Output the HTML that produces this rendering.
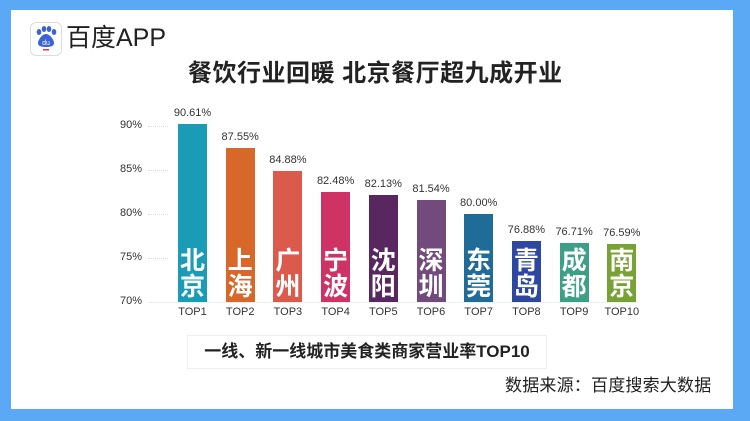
<!DOCTYPE html>
<html><head><meta charset="utf-8"><style>
body{margin:0;width:750px;height:421px;background:#5ba8f4;position:relative;overflow:hidden;font-family:"Liberation Sans","Noto Sans CJK SC",sans-serif}
#w{position:absolute;left:11px;top:10px;width:722px;height:399px;background:#fff}
.a{position:absolute}
.lbl{position:absolute;font-size:11px;color:#333;text-align:center;width:60px}
.tk{position:absolute;font-size:11px;color:#333;left:112px;width:30px;text-align:right}
.grid{position:absolute;left:148px;width:20px;border-top:1px dotted #ddd}
.bar{position:absolute;width:29px}
.cn{position:absolute;width:29px;color:#fff;font-size:25px;line-height:26px;text-align:center;font-family:"Noto Sans CJK SC",sans-serif;font-weight:bold}
</style></head><body><div id="w"></div>
<div class="a" style="left:30px;top:22px;width:30px;height:32px;border:1px solid #ddd;border-radius:6px;background:#fff"></div>
<svg class="a" style="left:33px;top:25px" width="26" height="26" viewBox="0 0 26 26"><g fill="#3a63d8"><ellipse cx="6" cy="7" rx="2.3" ry="3"/><ellipse cx="11" cy="4" rx="2.3" ry="3"/><ellipse cx="16" cy="4" rx="2.3" ry="3"/><ellipse cx="21" cy="7" rx="2.3" ry="3"/><path d="M13 9c-4 0-8 6-8 9s3 4 8 4 8-1 8-4-4-9-8-9z"/></g><text x="13" y="20" font-size="7" fill="#fff" text-anchor="middle" font-family="Liberation Sans">du</text><rect x="10" y="24" width="6" height="1.5" fill="#e33"/></svg>
<div class="a" style="left:66px;top:23px;font-size:25px;color:#222;line-height:30px">百度APP</div>
<div class="a" style="left:188px;top:60px;font-size:24px;font-weight:bold;color:#222;line-height:28px;letter-spacing:0.5px;white-space:nowrap">餐饮行业回暖 北京餐厅超九成开业</div>
<div class="tk" style="top:119px">90%</div><div class="tk" style="top:163px">85%</div><div class="tk" style="top:207px">80%</div><div class="tk" style="top:251px">75%</div><div class="tk" style="top:295px">70%</div>
<div class="grid" style="top:126px"></div><div class="grid" style="top:170px"></div><div class="grid" style="top:214px"></div><div class="grid" style="top:258px"></div>
<div class="a" style="left:148px;top:302px;width:490px;border-top:1px solid #eee"></div>
<div id="bars"></div>
<script>
var d=[[90.61,"#1a9bb6","北京"],[87.55,"#d8682a","上海"],[84.88,"#db5a4c","广州"],[82.48,"#cf3366","宁波"],[82.13,"#59275f","沈阳"],[81.54,"#724a7c","深圳"],[80.00,"#1f6c98","东莞"],[76.88,"#2e47a0","青岛"],[76.71,"#3c9f88","成都"],[76.59,"#79a236","南京"]];
var h="";d.forEach(function(e,i){var x=178+i*47.7;var t=Math.max(124,302-(e[0]-70)*8.8);
h+='<div class="bar" style="left:'+x+'px;top:'+t+'px;height:'+(302-t)+'px;background:'+e[1]+'"></div>';
h+='<div class="cn" style="left:'+x+'px;top:246px">'+e[2][0]+'<br>'+e[2][1]+'</div>';
h+='<div class="lbl" style="left:'+(x-15.5)+'px;top:'+(t-17)+'px">'+e[0].toFixed(2)+'%</div>';
h+='<div class="lbl" style="left:'+(x-15.5)+'px;top:306px">TOP'+(i+1)+'</div>';});
document.getElementById("bars").innerHTML=h;
</script>
<div class="a" style="left:187px;top:335px;width:358px;height:32px;border:1px solid #eee;font-size:17px;font-weight:bold;line-height:32px;color:#222;text-align:center;white-space:nowrap">一线、新一线城市美食类商家营业率TOP10</div>
<div class="a" style="left:505px;top:374px;font-size:17px;color:#222;line-height:24px;white-space:nowrap;letter-spacing:0.2px">数据来源：百度搜索大数据</div>
</body></html>
